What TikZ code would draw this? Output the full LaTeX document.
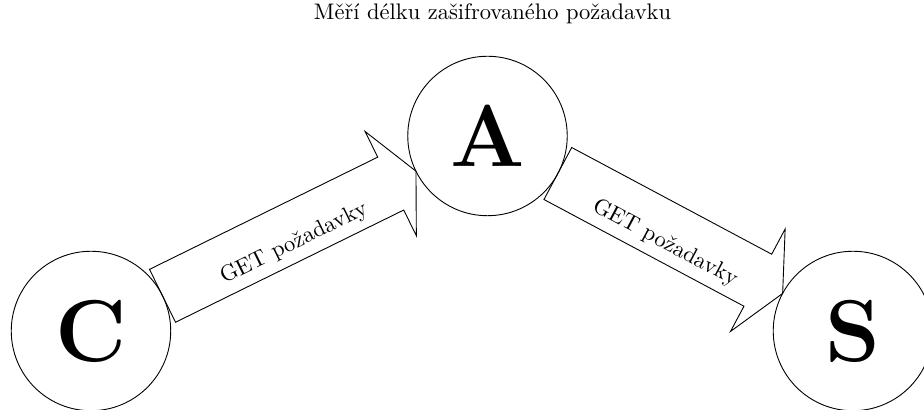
\documentclass[tikz,border=0pt]{standalone}
\usepackage{fontspec}
\usetikzlibrary{calc}

% Broad open arrow drawn between the borders of two round stations,
% with its label set along the shaft.
\newcommand\flowarrow[3]{%
  \path let \p1=($(#2)-(#1)$), \n1={veclen(\x1,\y1)}, \n2={atan2(\y1,\x1)} in
    \pgfextra{\xdef\flowlen{\n1}\xdef\flowang{\n2}};
  \pgfmathsetmacro\flowtail{\stationr}
  \pgfmathsetmacro\flowtip{\flowlen-\stationr}
  \pgfmathsetmacro\flowhead{\flowtip-\tiplen}
  \pgfmathsetmacro\flowmid{(\flowtail+\flowtip)/2}
  \begin{scope}[shift={(#1)}, rotate=\flowang]
    \draw[flow] (\flowtail,\shafthw) -- (\flowhead,\shafthw) -- (\flowhead,\headhw)
      -- (\flowtip,0) -- (\flowhead,-\headhw) -- (\flowhead,-\shafthw)
      -- (\flowtail,-\shafthw) -- cycle;
    \node[flowlabel, transform shape] at (\flowmid,-4.9) {#3};
  \end{scope}}
\def\stationr{35.43}
\def\shafthw{13.1}
\def\headhw{25.8}
\def\tiplen{12.5}

\begin{document}
\begin{tikzpicture}[x=1pt, y=1pt,
  station/.style={circle, draw, minimum size=70.87pt, inner sep=0pt,
    font=\fontsize{39}{40}\selectfont\bfseries},
  flow/.style={line join=miter},
  flowlabel/.style={inner sep=0pt},
  caption/.style={inner sep=0pt}]
  \useasboundingbox (0,0) rectangle (410.67,182.22);

  \node[station] (C) at (40.44,35.11) {C};
  \node[station] (A) at (216.67,121.78) {A};
  \node[station] (S) at (379.1,35.11) {S};

  \node[caption] (title) at (218.9,176.2) {Měří délku zašifrovaného požadavku};

  \flowarrow{C}{A}{GET požadavky}
  \flowarrow{A}{S}{GET požadavky}
\end{tikzpicture}
\end{document}
